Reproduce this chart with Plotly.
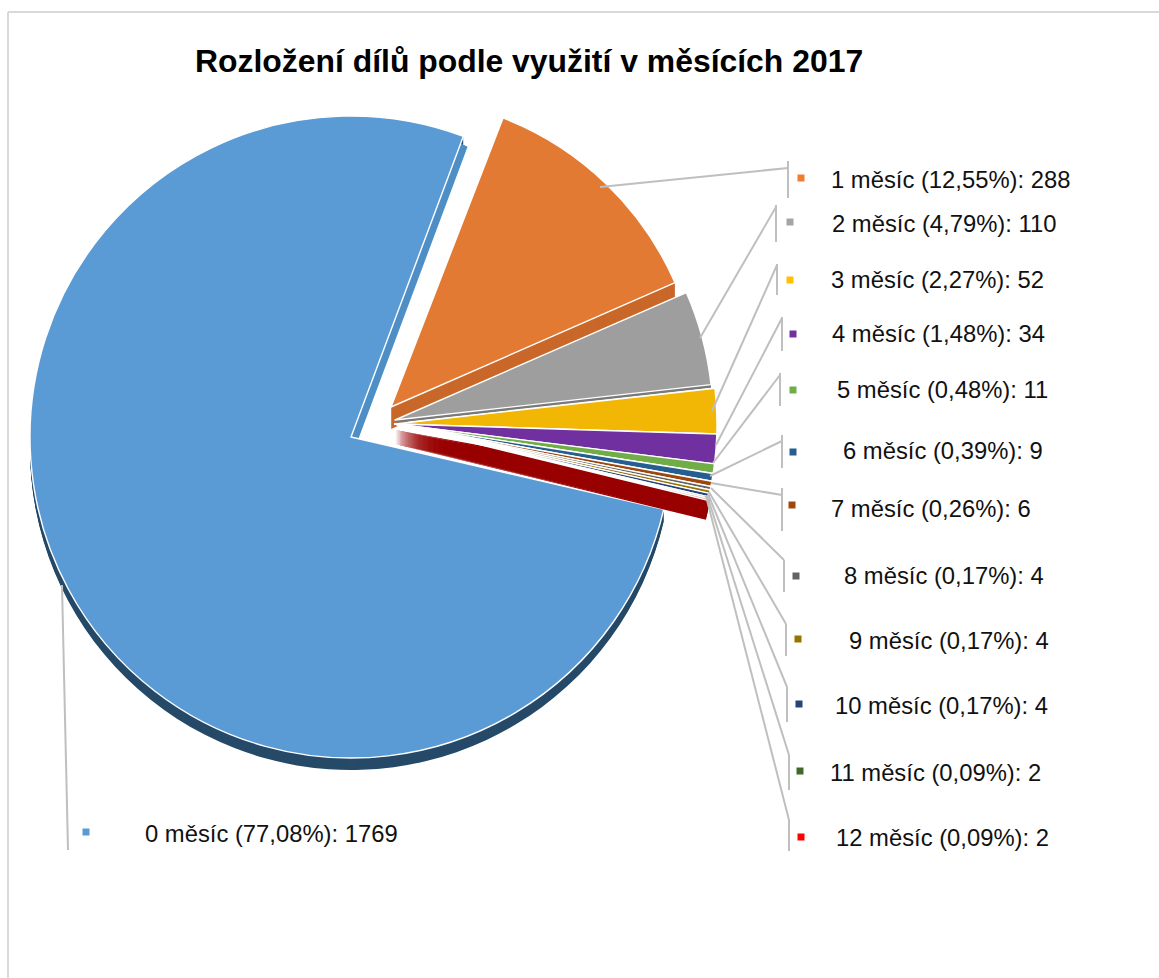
import plotly.graph_objects as go

# ---------- data ----------
months = [0, 1, 2, 3, 4, 5, 6, 7, 8, 9, 10, 11, 12]
counts = [1769, 288, 110, 52, 34, 11, 9, 6, 4, 4, 4, 2, 2]
top_colors = ["#5b9bd5", "#e27a33", "#9e9e9e", "#f2b705", "#7030a0", "#70ad47",
              "#255e91", "#9e480e", "#636363", "#997300", "#264478", "#43682b", "#ff0000"]
key_colors = ["#5b9bd5", "#ed7d31", "#a5a5a5", "#ffc000", "#7030a0", "#70ad47",
              "#255e91", "#9e480e", "#636363", "#997300", "#264478", "#43682b", "#ff0000"]
title_text = "Rozložení dílů podle využití v měsících 2017"

total = sum(counts)
names = [f"{m} měsíc" for m in months]
label_text = [f"{m} měsíc ({c / total * 100:.2f}%): {c}".replace(".", ",") for m, c in zip(months, counts)]

# ---------- layout constants (pixels) ----------
W, H = 1159, 978
ROTATION = 103.7
BLUE_ROTATION = 103.0
CLEAR = "rgba(0,0,0,0)"
LABEL_X = [142.5, 828.5, 829.5, 828.5, 829.5, 834.5, 840.5, 828.5, 841.5, 846.5, 832.5, 827.5, 833.5]
LABEL_Y = [833, 179, 224, 279, 334, 389, 451, 508, 575, 640, 705, 772, 837]
KEY_X = [86, 801, 790, 790, 793, 793, 793, 792, 796, 798, 799, 800, 801]
KEY_Y = [832, 178, 222, 280, 334, 390, 452, 505, 576, 639, 704, 771, 837]
LEADERS = [
    [(62, 585), (68, 850)],
    [(600, 187), (788, 168)],
    [(700, 338), (776, 207)],
    [(712, 411), (777, 265)],
    [(716, 445), (782, 318)],
    [(713, 463), (780, 375)],
    [(710, 476), (782, 441)],
    [(711, 483), (782, 495)],
    [(711, 488), (784, 560)],
    [(709, 492), (786, 624)],
    [(708, 494), (787, 687)],
    [(707, 495), (789, 755)],
    [(706, 496), (789, 820)],
]
BARS = [None, (788, 161, 198), (776, 205, 242), (777, 264, 295), (782, 317, 351),
        (780, 373, 406), (782, 435, 468), (782, 488, 531), (784, 560, 592),
        (786, 624, 656), (787, 687, 722), (789, 755, 790), (789, 820, 851)]


def px(x):
    return x / W


def py(y):
    return 1 - y / H


def pie(colors, cx, cy, r, outline=None, rotation=ROTATION):
    widths = [1.4 if (outline and c != CLEAR) else 0 for c in colors]
    return go.Pie(
        labels=names, values=counts, sort=False, direction="clockwise", rotation=rotation,
        marker=dict(colors=colors, line=dict(color="#ffffff", width=widths)),
        textinfo="none", hoverinfo="label+value+percent", showlegend=False,
        domain=dict(x=[px(cx - r), px(cx + r)], y=[py(cy + r), py(cy - r)]),
    )


def only(idx, source):
    return [source[i] if i in idx else CLEAR for i in range(len(counts))]


def wall(color, idx, cx, cy, r, depth, rotation=ROTATION):
    cols = [color if i in idx else CLEAR for i in range(len(counts))]
    return [pie(cols, cx, cy + d, r, rotation=rotation) for d in range(depth, 0, -1)]


traces = []
# main slice: rim wall, cut wall, top
traces += wall("#264a68", {0}, 351, 437, 321, 12, rotation=BLUE_ROTATION)
traces += [pie([("#4f8fc6" if i == 0 else CLEAR) for i in range(13)], 351 + d * 0.7, 437 + d * 0.3, 313,
               rotation=BLUE_ROTATION)
           for d in range(10, 0, -1)]
traces.append(pie(only({0}, top_colors), 351, 437, 321, outline=True, rotation=BLUE_ROTATION))
# orange slice
traces += wall("#c9682a", {1}, 391, 407, 310, 22)
traces.append(pie(only({1}, top_colors), 391, 407, 310, outline=True))
# grey slice
traces += wall("#7a7a7a", {2}, 395, 420, 318, 3)
traces.append(pie(only({2}, top_colors), 395, 420, 318, outline=True))
# remaining slices: wall of the last slices, then their tops
rest = set(range(3, 13))
traces += wall("#990000", {7, 8, 9, 10, 11, 12}, 395, 429, 320, 15)
traces.append(pie(only(rest, top_colors), 395, 424, 322, outline=True))

fig = go.Figure(traces)

shapes = [
    dict(type="line", x0=px(8), x1=1, y0=py(12), y1=py(12), line=dict(color="#d9d9d9", width=2)),
    dict(type="line", x0=px(8), x1=px(8), y0=py(12), y1=0, line=dict(color="#d9d9d9", width=2)),
]
for seg in LEADERS:
    shapes.append(dict(type="line", x0=px(seg[0][0]), y0=py(seg[0][1]), x1=px(seg[1][0]), y1=py(seg[1][1]),
                       line=dict(color="#bfbfbf", width=2)))
for bar in BARS:
    if bar:
        shapes.append(dict(type="line", x0=px(bar[0]), x1=px(bar[0]), y0=py(bar[1]), y1=py(bar[2]),
                           line=dict(color="#bfbfbf", width=2)))
for x, y, c in zip(KEY_X, KEY_Y, key_colors):
    shapes.append(dict(type="rect", x0=px(x - 3.5), x1=px(x + 3.5), y0=py(y - 3.5), y1=py(y + 3.5),
                       fillcolor=c, line=dict(width=0)))

annotations = [dict(text=title_text, x=px(193), y=py(61), xref="paper", yref="paper", xanchor="left",
                    yanchor="middle", showarrow=False,
                    font=dict(family="Liberation Sans", size=31.9, color="#000000", weight="bold"))]
for x, y, t in zip(LABEL_X, LABEL_Y, label_text):
    annotations.append(dict(text=t, x=px(x), y=py(y), xref="paper", yref="paper", xanchor="left",
                            yanchor="middle", showarrow=False,
                            font=dict(family="Liberation Sans", size=23.8, color="#111111")))

fig.update_layout(width=W, height=H, margin=dict(l=0, r=0, t=0, b=0), paper_bgcolor="#ffffff",
                  shapes=shapes, annotations=annotations)
fig.write_html("out.html", config=dict(displayModeBar=False),
               post_script="document.body.style.margin='0';document.body.style.overflow='hidden';")
